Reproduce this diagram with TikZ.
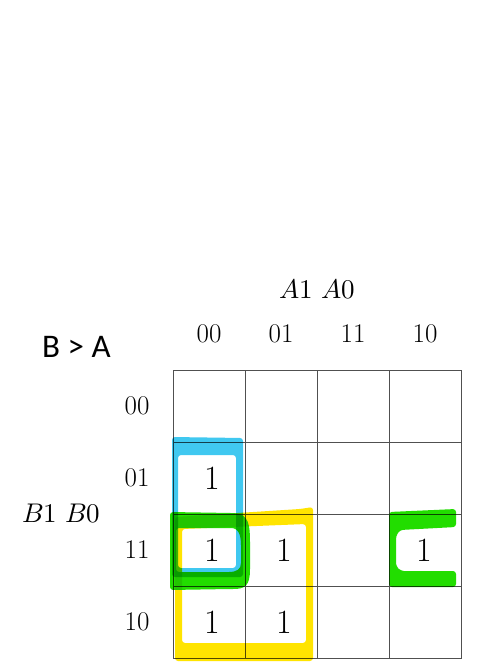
\documentclass[tikz,border=0pt]{standalone}
\usepackage{fontspec}
\usepackage{unicode-math}
\newfontfamily\calfont{Carlito}
\definecolor{hlblue}{RGB}{64,200,240}
\definecolor{hlyellow}{RGB}{255,228,0}
\definecolor{hlgreen}{RGB}{34,221,0}
\definecolor{gridgray}{RGB}{80,80,80}
\begin{document}
\begin{tikzpicture}[x=1pt,y=-1pt,
  lbl/.style={font=\fontsize{27}{30}\selectfont, inner sep=0pt},
  one/.style={font=\fontsize{34}{38}\selectfont, inner sep=0pt},
  gridline/.style={draw=gridgray, line width=1pt},
  hl/.style={even odd rule, rounded corners=3pt}]
\useasboundingbox (0,0) rectangle (492,670);
\fill[white] (0,0) rectangle (492,670);
% grid
\draw[gridline] (173,370) rectangle (461,658);
\foreach \x in {245,317,389} \draw[gridline] (\x,370) -- (\x,658);
\foreach \y in {442,514,586} \draw[gridline] (173,\y) -- (461,\y);
% title
\node[anchor=base west, inner sep=0pt, font=\calfont\fontsize{33}{36}\selectfont] (title) at (42,357) {B > A};
% headers
\node[lbl] (ha) at (317,289) {$A1\ A0$};
\node[lbl] (hc0) at (209,334) {00};
\node[lbl] (hc1) at (281,334) {01};
\node[lbl] (hc2) at (353,334) {11};
\node[lbl] (hc3) at (425,334) {10};
\node[lbl] (hb) at (61,514) {$B1\ B0$};
\node[lbl] (hr0) at (137,406) {00};
\node[lbl] (hr1) at (137,478) {01};
\node[lbl] (hr2) at (137,550) {11};
\node[lbl] (hr3) at (137,622) {10};
% ones
\node[one] (m1) at (212,478) {1};
\node[one] (m3) at (212,550) {1};
\node[one] (m7) at (284,550) {1};
\node[one] (m2) at (212,622) {1};
\node[one] (m6) at (284,622) {1};
\node[one] (m11) at (424,550) {1};
% highlights
\begin{scope}[blend mode=multiply]
\fill[hl, hlblue] (172,437) -- (243,438) -- (243,577) -- (172,577) -- cycle
  (178,455) -- (236,455) -- (236,568) -- (178,568) -- cycle;
\fill[hl, hlyellow] (175,517) -- (300,509) -- (313,507) -- (313,661) -- (175,661) -- cycle
  (182,529) -- (306,524) -- (306,643) -- (182,643) -- cycle;
\fill[hl, hlgreen] (170,512) -- (232,513) .. controls (249,514) and (250,526) .. (250,545)
  -- (250,566) .. controls (250,586) and (245,589) .. (230,589) -- (170,590) -- cycle
  (176,528) -- (228,528) .. controls (239,528) and (241,536) .. (241,548)
  -- (241,560) .. controls (241,569) and (237,572) .. (226,572) -- (176,572) -- cycle;
\fill[hl, hlgreen] (389,512) -- (456,509) -- (456,527) -- (400,530) -- (396,536) -- (396,566)
  -- (401,571) -- (456,571) -- (456,587) -- (389,587) -- cycle;
\end{scope}
\end{tikzpicture}
\end{document}
